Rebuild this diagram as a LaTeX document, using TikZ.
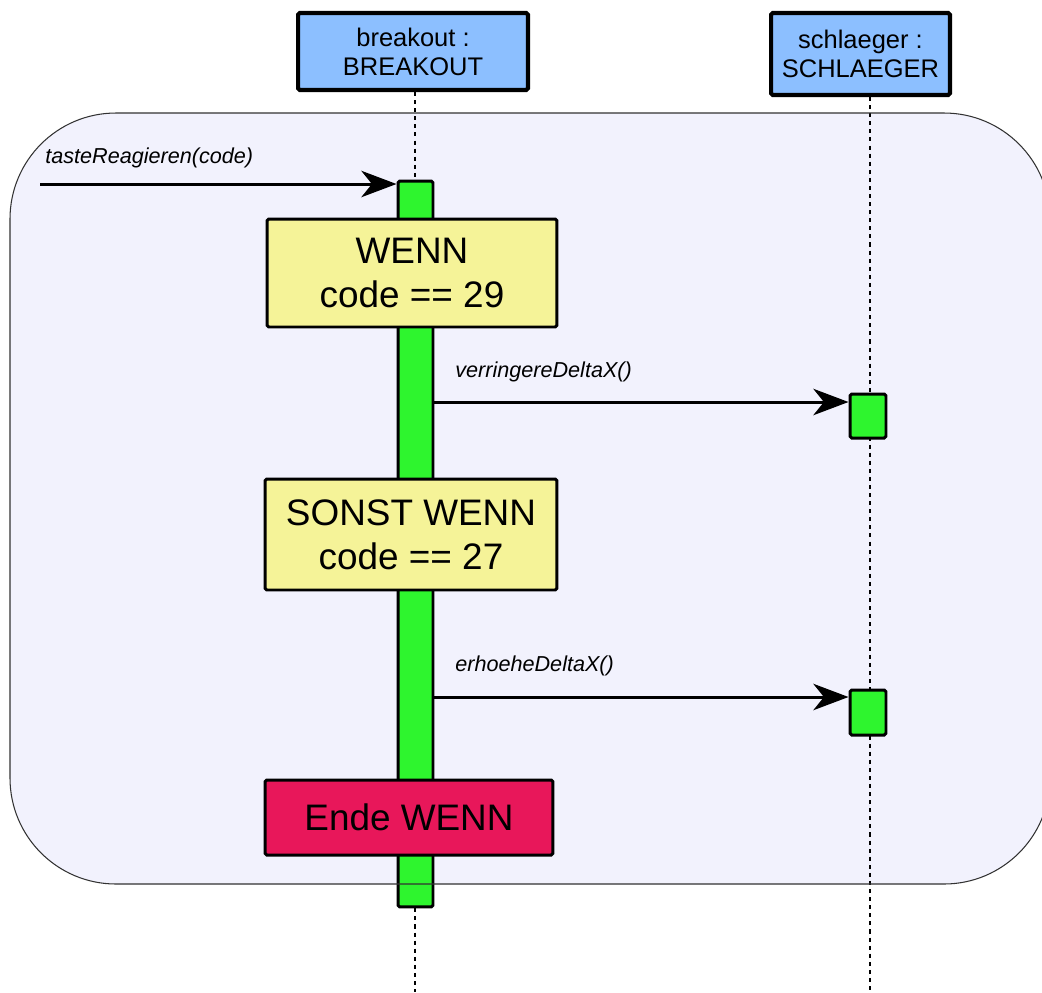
\documentclass[tikz,border=0pt]{standalone}
\usepackage{fontspec}
\setmainfont{Liberation Sans}
\usetikzlibrary{arrows.meta}
\definecolor{hdrblue}{RGB}{140,191,255}
\definecolor{actgreen}{RGB}{46,245,46}
\definecolor{condyellow}{RGB}{245,243,152}
\definecolor{endred}{RGB}{232,23,90}
\definecolor{framefill}{RGB}{242,242,253}
\definecolor{frameline}{RGB}{50,50,50}
\tikzset{
  header/.style={draw=black, line width=2.3pt, fill=hdrblue, rounded corners=1pt,
    align=center, font=\fontsize{14.5}{16.5}\selectfont, inner sep=0pt},
  actbar/.style={draw=black, line width=1.7pt, fill=actgreen, rounded corners=1pt, inner sep=0pt},
  condbox/.style={draw=black, line width=1.7pt, fill=condyellow, rounded corners=1pt,
    align=center, font=\fontsize{21}{25}\selectfont, inner sep=0pt},
  endbox/.style={draw=black, line width=1.7pt, fill=endred, rounded corners=1pt,
    align=center, font=\fontsize{21}{25}\selectfont, inner sep=0pt},
  msg/.style={line width=1.7pt, -{Stealth[length=20pt, width=15pt, inset=6pt]}},
  msglabel/.style={font=\fontsize{12.3}{14}\selectfont\itshape, anchor=west, inner sep=0pt},
  lifeline/.style={line width=0.6pt, dash pattern=on 2.3pt off 2.3pt},
  frame/.style={draw=frameline, line width=0.6pt, rounded corners=2.12cm},
}
\begin{document}
\begin{tikzpicture}[x=0.02cm, y=-0.02cm]
\useasboundingbox (0,0) rectangle (1042,992);
% combined fragment background
\fill[framefill, rounded corners=2.12cm] (10,113) rectangle (1050,884);

% objects
\node[header, minimum width=4.6cm, minimum height=1.54cm] (bo) at (413,51.5) {breakout :\\BREAKOUT};
\node[header, minimum width=3.58cm, minimum height=1.64cm] (sc) at (860.5,54) {schlaeger :\\SCHLAEGER};

% lifelines
\coordinate (bottom) at (0,992);
\draw[lifeline] (bo.south -| 415,0) -- (bottom -| 415,0);
\draw[lifeline] (sc.south -| 870,0) -- (bottom -| 870,0);

% activations
\node[actbar, minimum width=0.7cm, minimum height=14.52cm] (bar) at (415.5,544) {};
\node[actbar, minimum width=0.72cm, minimum height=0.88cm] (s1) at (868,416) {};
\node[actbar, minimum width=0.72cm, minimum height=0.9cm] (s2) at (868,712.5) {};

% conditions
\node[condbox, minimum width=5.8cm, minimum height=2.16cm] (wenn) at (412,273) {WENN\\code == 29};
\node[condbox, minimum width=5.84cm, minimum height=2.22cm] (sonst) at (411,534.5) {SONST WENN\\code == 27};
\node[endbox, minimum width=5.76cm, minimum height=1.5cm] (ende) at (409,817.5) {Ende WENN};

% messages
\coordinate (m0) at (40,184);
\coordinate (m1) at (433,402);
\coordinate (m2) at (433,697);
\draw[msg] (m0) -- (m0 -| bar.west);
\draw[msg] (m1 -| bar.east) -- (m1 -| s1.west);
\draw[msg] (m2 -| bar.east) -- (m2 -| s2.west);
\node[msglabel] (l0) at (45,158) {tasteReagieren(code)};
\node[msglabel] (l1) at (455,372) {verringereDeltaX()};
\node[msglabel] (l2) at (455,666) {erhoeheDeltaX()};

% fragment outline on top
\draw[frame] (10,113) rectangle (1050,884);
\end{tikzpicture}
\end{document}
